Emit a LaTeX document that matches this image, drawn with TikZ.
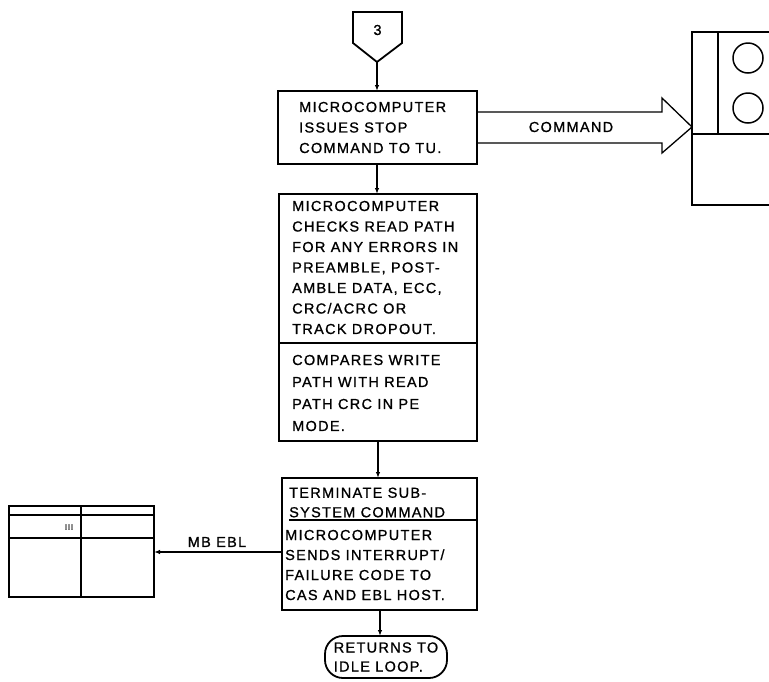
\documentclass[tikz,border=0pt]{standalone}
\usepackage{fontspec}
\newfontfamily\lbl[LetterSpace=9,FakeBold=1]{Liberation Sans}
\usetikzlibrary{arrows.meta}
\begin{document}
\begin{tikzpicture}[x=1pt,y=-1pt,
  box/.style={draw,line width=1.8pt,inner sep=0pt,outer sep=0pt},
  thin/.style={line width=1.3pt},
  conn/.style={line width=1.3pt,-{Latex[length=6pt,width=4.5pt]}},
  txt/.style={font=\lbl\fontsize{14.5}{20.5}\selectfont,align=left,inner sep=0pt,anchor=west},
  txtb/.style={font=\lbl\fontsize{14.5}{22}\selectfont,align=left,inner sep=0pt,anchor=west}]
\useasboundingbox (0,0) rectangle (769,681);
% off-page connector 3
\draw[line width=1.8pt] (353,12) -- (402,12) -- (402,43) -- (377,62) -- (353,43) -- cycle;
\coordinate (p3) at (377,62);
\node[font=\lbl\fontsize{14.5}{15}\selectfont] (n3) at (377.5,30) {3};
% box 1
\node[box,minimum width=199pt,minimum height=73pt] (b1) at (377.5,127.5) {};
\node[txt] (t1) at (299,127.5) {MICROCOMPUTER\\ISSUES STOP\\COMMAND TO TU.};
% box 2
\node[box,minimum width=198pt,minimum height=247pt] (b2) at (378,317.5) {};
\draw[thin] (b2.west |- 0,343) -- (b2.east |- 0,343);
\node[txt] (t2a) at (292,267.5) {MICROCOMPUTER\\CHECKS READ PATH\\FOR ANY ERRORS IN\\PREAMBLE, POST-\\AMBLE DATA, ECC,\\CRC/ACRC OR\\TRACK DROPOUT.};
\node[txtb] (t2b) at (292,393) {COMPARES WRITE\\PATH WITH READ\\PATH CRC IN PE\\MODE.};
% box 3
\node[box,minimum width=195pt,minimum height=132pt] (b3) at (379.5,544) {};
\draw[thin] (289,520) -- (b3.east |- 0,520);
\node[txt,font=\lbl\fontsize{14.5}{19.5}\selectfont] (t3a) at (289,502.5) {TERMINATE SUB-\\SYSTEM COMMAND};
\node[txt,font=\lbl\fontsize{14.5}{20}\selectfont] (t3b) at (285,565) {MICROCOMPUTER\\SENDS INTERRUPT/\\FAILURE CODE TO\\CAS AND EBL HOST.};
% terminal
\node[draw,line width=1.8pt,rounded corners=18pt,minimum width=122pt,minimum height=42pt,inner sep=0pt,
  font=\lbl\fontsize{14.5}{19}\selectfont,align=left] (term) at (386,657) {RETURNS TO\\IDLE LOOP.};
% connectors
\draw[conn] (p3) -- (p3 |- b1.north);
\draw[conn] (b1.south -| p3) -- (b2.north -| p3);
\draw[conn] (b2.south) -- (b3.north -| b2.south);
\draw[conn] (380,610) -- (380,636);
% command arrow and tape unit
\coordinate (tip) at (692,127);
\draw[thin] (b1.east |- 0,112) -- (662,112) -- (662,98) -- (tip) -- (662,153) -- (662,143) -- (b1.east |- 0,143);
\node[font=\lbl\fontsize{14.5}{15}\selectfont] (cmd) at (571,127) {COMMAND};
\draw[box] (790,32) -- (692,32) -- (692,205) -- (790,205);
\draw[thin] (718,32) -- (718,134);
\draw[thin] (692,134) -- (790,134);
\draw[line width=1.5pt] (748,58) circle (15);
\draw[line width=1.5pt] (748,108) circle (15);
% EBL box
\node[box,minimum width=145pt,minimum height=91pt] (ebl) at (81.5,551.5) {};
\draw[thin] (ebl.west |- 0,515) -- (ebl.east |- 0,515);
\draw[thin] (ebl.west |- 0,538) -- (ebl.east |- 0,538);
\draw[thin] (81,506) -- (81,597);
\node[font=\lbl\fontsize{8}{8}\selectfont] (iii) at (69,527) {III};
\draw[conn] (b3.west |- 0,552) -- (ebl.east |- 0,552);
\node[font=\lbl\fontsize{14.5}{15}\selectfont] (mbebl) at (217,542) {MB EBL};
\end{tikzpicture}
\end{document}
